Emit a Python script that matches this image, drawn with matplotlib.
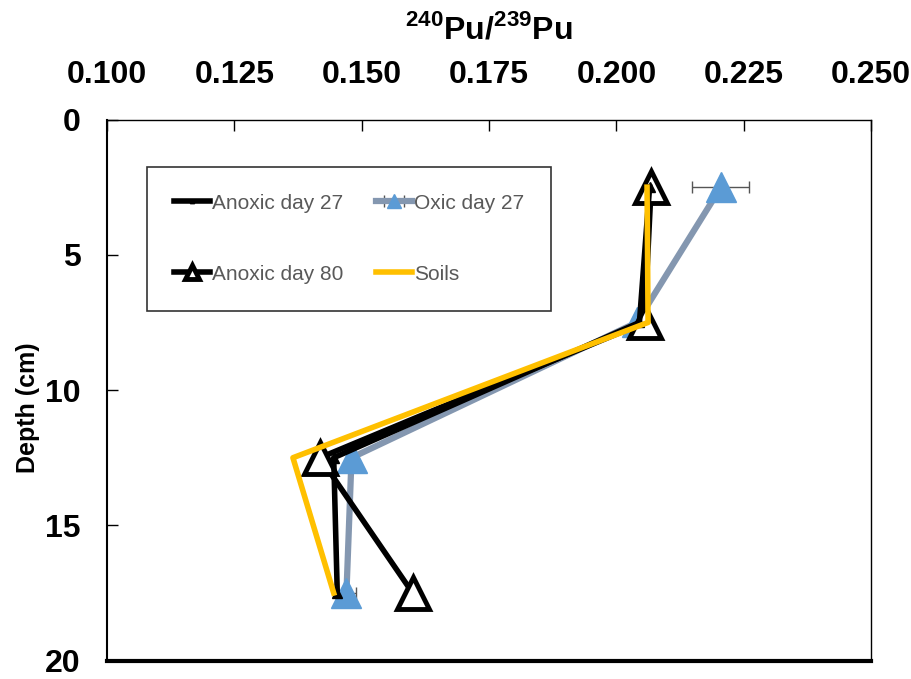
import matplotlib.pyplot as plt
from matplotlib.ticker import MultipleLocator, FormatStrFormatter

plt.rcParams['font.family'] = ['Liberation Sans', 'DejaVu Sans']
plt.rcParams['mathtext.fontset'] = 'custom'
plt.rcParams['mathtext.rm'] = 'Liberation Sans'
plt.rcParams['mathtext.bf'] = 'Liberation Sans:bold'

# данные (глубина, см)
depth = [2.5, 7.5, 12.5, 17.5]

anoxic27 = [0.2065, 0.2045, 0.1445, 0.1452]
oxic27 = [0.2205, 0.2040, 0.1480, 0.1470]
oxic27_err = [0.0056, 0.0, 0.0, 0.0018]
anoxic80 = [0.2068, 0.2055, 0.1418, 0.1600]
soils = [0.2060, 0.2062, 0.1365, 0.1445]

fig = plt.figure(figsize=(9.12, 6.79), dpi=100)
ax = fig.add_axes([0.1173, 0.027, 0.838, 0.797])

# Oxic day 27
ax.errorbar(oxic27, depth, xerr=oxic27_err, color='#8497B0', lw=4.5,
            marker='^', ms=22, mfc='#5B9BD5', mec='#5B9BD5',
            ecolor='#555555', elinewidth=1, capsize=4, zorder=2,
            label='Oxic day 27')
# Anoxic day 80
ax.plot(anoxic80, depth, color='black', lw=4, marker='^', ms=23,
        mfc='white', mec='black', mew=3.5, zorder=3, label='Anoxic day 80')
# Anoxic day 27
ax.plot(anoxic27, depth, color='black', lw=4, marker='^', ms=7,
        mfc='black', mec='black', zorder=4, label='Anoxic day 27')
# Soils
ax.plot(soils, depth, color='#FFC000', lw=4, zorder=5, label='Soils')

ax.set_xlim(0.1, 0.25)
ax.set_ylim(20, 0)
ax.xaxis.set_major_locator(MultipleLocator(0.025))
ax.xaxis.set_major_formatter(FormatStrFormatter('%.3f'))
ax.yaxis.set_major_locator(MultipleLocator(5))
ax.xaxis.tick_top()
ax.xaxis.set_label_position('top')
ax.tick_params(axis='x', direction='in', length=8, width=1, pad=21,
               labelsize=23)
ax.tick_params(axis='y', direction='in', length=8, width=1, pad=19,
               labelsize=23)
for lab in ax.get_xticklabels() + ax.get_yticklabels():
    lab.set_fontweight('bold')

ax.spines['bottom'].set_linewidth(3)
ax.spines['left'].set_linewidth(1.5)
ax.spines['right'].set_linewidth(1)
ax.spines['top'].set_linewidth(1)

ax.set_xlabel(r'$^{\mathbf{240}}$Pu/$^{\mathbf{239}}$Pu', fontsize=23,
              fontweight='bold', labelpad=16)
ax.set_ylabel('Depth (cm)', fontsize=18, fontweight='bold')
ax.yaxis.set_label_coords(-0.087, 0.467)

h, l = ax.get_legend_handles_labels()
order = [l.index('Anoxic day 27'), l.index('Anoxic day 80'),
         l.index('Oxic day 27'), l.index('Soils')]
leg = ax.legend([h[i] for i in order], [l[i] for i in order], ncol=2,
                loc='upper left', bbox_to_anchor=(0.0524, 0.913),
                borderaxespad=0, frameon=True, fancybox=False,
                edgecolor='black', fontsize=15, handlelength=1.7,
                handletextpad=0.1, columnspacing=1.6, labelspacing=2.5,
                borderpad=1.3, labelcolor='#595959', markerscale=0.45)
leg.get_frame().set_linewidth(1.2)

fig.savefig('out.png', dpi=100)
